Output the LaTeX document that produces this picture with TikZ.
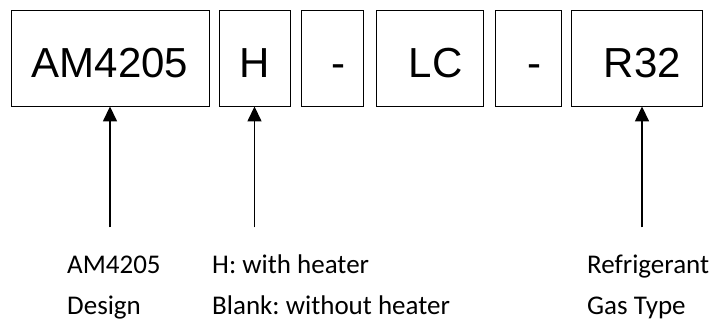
\documentclass[tikz,border=0pt]{standalone}
\usepackage{fontspec}
\setmainfont{Liberation Sans}
\newfontfamily\notefont{Carlito}
\usetikzlibrary{arrows.meta}
\frenchspacing

\tikzset{nudge/.style={execute at begin node={\hspace*{12pt}}}}

\begin{document}
\begin{tikzpicture}[x=1pt,y=1pt]
        \useasboundingbox (0,0) rectangle (717,327);

        \begin{scope}[every node/.style={draw,line width=0.9pt,inner sep=0pt,minimum height=96pt,
            text height=40pt,font=\fontsize{42}{50}\selectfont}]
          \node[minimum width=198pt]       (am)  at (110,269)   {AM4205};
          \node[minimum width=71pt]        (h)   at (254.5,269) {H};
          \node[minimum width=62pt,nudge]  (d1)  at (332,269)   {-};
          \node[minimum width=107pt,nudge] (lc)  at (429.5,269) {LC};
          \node[minimum width=66pt,nudge]  (d2)  at (528,269)   {-};
          \node[minimum width=131pt,nudge] (r32) at (636.5,269) {R32};
        \end{scope}

        \begin{scope}[every node/.style={anchor=base west,align=left,inner sep=0pt,
            font=\notefont\fontsize{27}{41}\selectfont\frenchspacing}]
          \node (amnote)  at (67,13)  {AM4205\\Design};
          \node (hnote)   at (212,13) {H: with heater\\Blank: without heater};
          \node (r32note) at (587,13) {Refrigerant\\Gas Type};
        \end{scope}

        \coordinate (amtail)  at ([yshift=-121pt]am.south);
        \coordinate (htail)   at ([yshift=-121pt]h.south);
        \coordinate (r32tail) at ([xshift=5.5pt,yshift=-121pt]r32.south);

        \begin{scope}[every edge/.style={draw,line width=1.5pt,-{Triangle[width=14pt,length=15pt]}}]
          \path (amtail)  edge (am.south);
          \path (htail)   edge (h.south);
          \path (r32tail) edge (r32tail |- r32.south);
        \end{scope}

      \end{tikzpicture}
\end{document}
